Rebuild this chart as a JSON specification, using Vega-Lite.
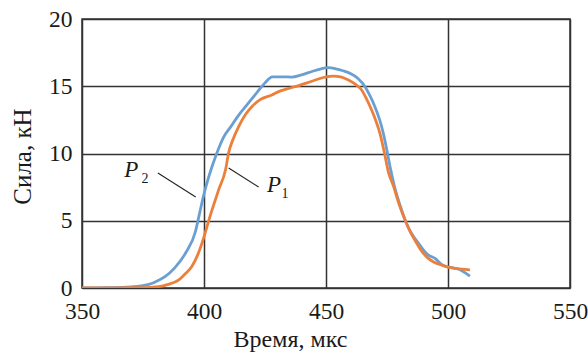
{
  "$schema": "https://vega.github.io/schema/vega-lite/v6.json",
  "width": 488,
  "height": 269,
  "autosize": {"type": "none"},
  "padding": {"left": 82, "top": 19, "right": 18, "bottom": 65},
  "background": "white",
  "config": {
    "view": {"stroke": "#333333", "strokeWidth": 1.5},
    "font": "Liberation Serif",
    "axis": {
      "gridColor": "#333333",
      "gridWidth": 1.5,
      "gridOpacity": 1,
      "domain": false,
      "ticks": false
    }
  },
  "datasets": {
    "curves": [
      {"series": "P2", "t": 350, "f": 0},
      {"series": "P2", "t": 360, "f": 0.02},
      {"series": "P2", "t": 370, "f": 0.08},
      {"series": "P2", "t": 375, "f": 0.18},
      {"series": "P2", "t": 377.4, "f": 0.27},
      {"series": "P2", "t": 380, "f": 0.45},
      {"series": "P2", "t": 384, "f": 0.84},
      {"series": "P2", "t": 388, "f": 1.5},
      {"series": "P2", "t": 392.4, "f": 2.58},
      {"series": "P2", "t": 396.5, "f": 4.2},
      {"series": "P2", "t": 398, "f": 5.4},
      {"series": "P2", "t": 400, "f": 7.0},
      {"series": "P2", "t": 402, "f": 8.3},
      {"series": "P2", "t": 405.2, "f": 10.0},
      {"series": "P2", "t": 408, "f": 11.2},
      {"series": "P2", "t": 411, "f": 12.0},
      {"series": "P2", "t": 414, "f": 12.8},
      {"series": "P2", "t": 418, "f": 13.7},
      {"series": "P2", "t": 422, "f": 14.6},
      {"series": "P2", "t": 425, "f": 15.25},
      {"series": "P2", "t": 428, "f": 15.7},
      {"series": "P2", "t": 432, "f": 15.7},
      {"series": "P2", "t": 436, "f": 15.68},
      {"series": "P2", "t": 440, "f": 15.85},
      {"series": "P2", "t": 444, "f": 16.08},
      {"series": "P2", "t": 448, "f": 16.3},
      {"series": "P2", "t": 451, "f": 16.38},
      {"series": "P2", "t": 454, "f": 16.3},
      {"series": "P2", "t": 457, "f": 16.15},
      {"series": "P2", "t": 460, "f": 15.95},
      {"series": "P2", "t": 463, "f": 15.6},
      {"series": "P2", "t": 466, "f": 14.97},
      {"series": "P2", "t": 468, "f": 14.3},
      {"series": "P2", "t": 470, "f": 13.5},
      {"series": "P2", "t": 472, "f": 12.5},
      {"series": "P2", "t": 473.5, "f": 11.5},
      {"series": "P2", "t": 475, "f": 10.2},
      {"series": "P2", "t": 476.5, "f": 8.8},
      {"series": "P2", "t": 478, "f": 7.6},
      {"series": "P2", "t": 481, "f": 5.8},
      {"series": "P2", "t": 483, "f": 4.8},
      {"series": "P2", "t": 485, "f": 4.07},
      {"series": "P2", "t": 488, "f": 3.3},
      {"series": "P2", "t": 490.5, "f": 2.7},
      {"series": "P2", "t": 492, "f": 2.45},
      {"series": "P2", "t": 494.7, "f": 2.2},
      {"series": "P2", "t": 497, "f": 1.8},
      {"series": "P2", "t": 499.4, "f": 1.58},
      {"series": "P2", "t": 502, "f": 1.5},
      {"series": "P2", "t": 504.2, "f": 1.41},
      {"series": "P2", "t": 506, "f": 1.25},
      {"series": "P2", "t": 509, "f": 0.89},
      {"series": "P1", "t": 350, "f": 0},
      {"series": "P1", "t": 360, "f": 0},
      {"series": "P1", "t": 370, "f": 0.02},
      {"series": "P1", "t": 378, "f": 0.05},
      {"series": "P1", "t": 381.5, "f": 0.1},
      {"series": "P1", "t": 385, "f": 0.25},
      {"series": "P1", "t": 389.7, "f": 0.6},
      {"series": "P1", "t": 392, "f": 1.0},
      {"series": "P1", "t": 395, "f": 1.6},
      {"series": "P1", "t": 397.5, "f": 2.5},
      {"series": "P1", "t": 400, "f": 3.8},
      {"series": "P1", "t": 402, "f": 5.05},
      {"series": "P1", "t": 404, "f": 6.2},
      {"series": "P1", "t": 406, "f": 7.3},
      {"series": "P1", "t": 408.8, "f": 8.77},
      {"series": "P1", "t": 410.1, "f": 10.06},
      {"series": "P1", "t": 412, "f": 11.1},
      {"series": "P1", "t": 414.2, "f": 12.0},
      {"series": "P1", "t": 417, "f": 12.9},
      {"series": "P1", "t": 419.7, "f": 13.5},
      {"series": "P1", "t": 423, "f": 14.0},
      {"series": "P1", "t": 427.8, "f": 14.35},
      {"series": "P1", "t": 430.6, "f": 14.6},
      {"series": "P1", "t": 434, "f": 14.8},
      {"series": "P1", "t": 438.8, "f": 15.05},
      {"series": "P1", "t": 443, "f": 15.3},
      {"series": "P1", "t": 446.9, "f": 15.54},
      {"series": "P1", "t": 450, "f": 15.7},
      {"series": "P1", "t": 453, "f": 15.76},
      {"series": "P1", "t": 456, "f": 15.7},
      {"series": "P1", "t": 459.2, "f": 15.46},
      {"series": "P1", "t": 462, "f": 15.15},
      {"series": "P1", "t": 464.6, "f": 14.72},
      {"series": "P1", "t": 466.5, "f": 14.1},
      {"series": "P1", "t": 468.7, "f": 13.23},
      {"series": "P1", "t": 470.5, "f": 12.4},
      {"series": "P1", "t": 472.1, "f": 11.5},
      {"series": "P1", "t": 474, "f": 10.0},
      {"series": "P1", "t": 475.6, "f": 8.6},
      {"series": "P1", "t": 477.6, "f": 7.6},
      {"series": "P1", "t": 480, "f": 6.2},
      {"series": "P1", "t": 482.4, "f": 5.05},
      {"series": "P1", "t": 484.5, "f": 4.2},
      {"series": "P1", "t": 486.4, "f": 3.57},
      {"series": "P1", "t": 489, "f": 2.8},
      {"series": "P1", "t": 491.9, "f": 2.2},
      {"series": "P1", "t": 494.5, "f": 1.9},
      {"series": "P1", "t": 497.3, "f": 1.71},
      {"series": "P1", "t": 500, "f": 1.55},
      {"series": "P1", "t": 502.8, "f": 1.46},
      {"series": "P1", "t": 506, "f": 1.4},
      {"series": "P1", "t": 509, "f": 1.34}
    ],
    "leaders": [
      {"t": 381.1, "f": 8.55, "t2": 396.6, "f2": 6.77},
      {"t": 410.1, "f": 8.92, "t2": 422.4, "f2": 7.51}
    ],
    "mainLabels": [
      {"t": 370.2, "f": 8.74, "text": "P"},
      {"t": 428.7, "f": 7.66, "text": "P"}
    ],
    "subLabels": [
      {"t": 375.8, "f": 8.1, "text": "2"},
      {"t": 433.2, "f": 6.99, "text": "1"}
    ]
  },
  "encoding": {
    "x": {
      "field": "t",
      "type": "quantitative",
      "scale": {"domain": [350, 550], "nice": false, "zero": false},
      "axis": {
        "values": [350, 400, 450, 500, 550],
        "title": "Время, мкс",
        "labelFont": "Liberation Serif",
        "labelFontSize": 23.5,
        "labelColor": "#1a1a1a",
        "labelFlush": false,
        "labelPadding": 11,
        "titleFont": "Liberation Serif",
        "titleFontSize": 24,
        "titleFontWeight": "normal",
        "titleColor": "#1a1a1a",
        "titleX": 208,
        "titleY": 58,
        "titleBaseline": "alphabetic",
        "titleAnchor": "middle"
      }
    },
    "y": {
      "field": "f",
      "type": "quantitative",
      "scale": {"domain": [0, 20], "nice": false},
      "axis": {
        "values": [0, 5, 10, 15, 20],
        "title": "Сила, кН",
        "labelFont": "Liberation Serif",
        "labelFontSize": 23.5,
        "labelColor": "#1a1a1a",
        "labelFlush": false,
        "labelPadding": 10,
        "titleFont": "Liberation Serif",
        "titleFontSize": 25,
        "titleFontWeight": "normal",
        "titleColor": "#1a1a1a",
        "titleX": -60,
        "titleY": 137,
        "titleAngle": -90,
        "titleBaseline": "middle",
        "titleAnchor": "middle"
      }
    }
  },
  "layer": [
    {
      "data": {"name": "curves"},
      "mark": {"type": "line", "interpolate": "monotone", "strokeWidth": 2.8, "clip": true},
      "encoding": {
        "color": {
          "field": "series",
          "type": "nominal",
          "scale": {"domain": ["P2", "P1"], "range": ["#6a9fd3", "#ec7f3a"]},
          "legend": null
        },
        "order": {"field": "series", "sort": "descending"}
      }
    },
    {
      "data": {"name": "leaders"},
      "mark": {"type": "rule", "color": "#222222", "strokeWidth": 1.1},
      "encoding": {
        "x2": {"field": "t2"},
        "y2": {"field": "f2"}
      }
    },
    {
      "data": {"name": "mainLabels"},
      "mark": {"type": "text", "font": "Liberation Serif", "fontStyle": "italic", "fontSize": 23, "align": "center", "baseline": "middle", "color": "#1a1a1a"},
      "encoding": {"text": {"field": "text"}}
    },
    {
      "data": {"name": "subLabels"},
      "mark": {"type": "text", "font": "Liberation Serif", "fontSize": 14, "align": "center", "baseline": "middle", "color": "#1a1a1a"},
      "encoding": {"text": {"field": "text"}}
    }
  ]
}
